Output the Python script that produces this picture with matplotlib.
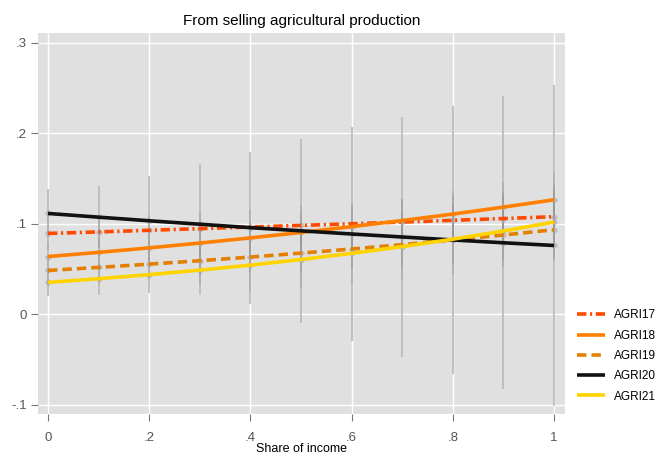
import numpy as np
import matplotlib
matplotlib.use("Agg")
import matplotlib.pyplot as plt

plt.rcParams['font.family'] = ['Liberation Sans', 'DejaVu Sans']

title = "From selling agricultural production"
xlabel = "Share of income"
x = [0.0, 0.1, 0.2, 0.3, 0.4, 0.5, 0.6, 0.7, 0.8, 0.9, 1.0]

agri17 = [0.0895, 0.0912, 0.0930, 0.0948, 0.0966, 0.0984, 0.1002, 0.1021, 0.1040, 0.1060, 0.1080]
agri18 = [0.0640, 0.0686, 0.0736, 0.0789, 0.0846, 0.0906, 0.0970, 0.1038, 0.1109, 0.1186, 0.1267]
agri19 = [0.0486, 0.0520, 0.0556, 0.0594, 0.0634, 0.0678, 0.0723, 0.0772, 0.0823, 0.0878, 0.0936]
agri20 = [0.1116, 0.1075, 0.1035, 0.0997, 0.0959, 0.0924, 0.0889, 0.0856, 0.0823, 0.0792, 0.0762]
agri21 = [0.0354, 0.0395, 0.0440, 0.0490, 0.0545, 0.0607, 0.0675, 0.0750, 0.0832, 0.0922, 0.1021]

# confidence-interval half widths
ci17 = [0.018, 0.017, 0.017, 0.018, 0.019, 0.021, 0.023, 0.025, 0.027, 0.029, 0.031]
ci18 = [0.016, 0.015, 0.015, 0.016, 0.018, 0.020, 0.022, 0.024, 0.026, 0.028, 0.030]
ci19 = [0.017, 0.016, 0.016, 0.017, 0.018, 0.020, 0.022, 0.024, 0.027, 0.029, 0.031]
ci20 = [0.027, 0.034, 0.050, 0.067, 0.084, 0.102, 0.118, 0.133, 0.148, 0.162, 0.177]
ci21 = [0.0154, 0.0175, 0.020, 0.027, 0.030, 0.032, 0.034, 0.036, 0.038, 0.040, 0.042]

labels = ["AGRI17", "AGRI18", "AGRI19", "AGRI20", "AGRI21"]
series = [agri17, agri18, agri19, agri20, agri21]
cis = [ci17, ci18, ci19, ci20, ci21]
colors = ["#FF4A00", "#FF8000", "#E38000", "#111111", "#FFD300"]
styles = [(0, (2.6, 1.0, 0.6, 1.0)), "-", (0, (2.6, 1.4)), "-", "-"]

xticks = [0, 0.2, 0.4, 0.6, 0.8, 1.0]
xticklabels = ["0", ".2", ".4", ".6", ".8", "1"]
yticks = [-0.1, 0, 0.1, 0.2, 0.3]
yticklabels = ["-.1", "0", ".1", ".2", ".3"]

fig = plt.figure(figsize=(6.58, 4.54), dpi=100)
ax = fig.add_axes([38/658, 1-414/454, (565-38)/658, (414-33)/454])
ax.set_facecolor("#E0E0E0")
for s in ax.spines.values():
    s.set_visible(False)

ax.set_xlim(-0.0198, 1.0217)
ax.set_ylim(-0.110, 0.311)
ax.set_xticks(xticks)
ax.set_xticklabels(xticklabels)
ax.set_yticks(yticks)
ax.set_yticklabels(yticklabels)
ax.grid(True, color="white", lw=1.0, zorder=0)
ax.set_axisbelow(True)
ax.tick_params(axis="both", colors="#777777", labelcolor="#555555", labelsize=9.5,
               length=5, width=0.8, direction="out")
ax.tick_params(axis="x", pad=8)
ax.tick_params(axis="y", pad=3)

xa = np.array(x)
arr_lo = np.array([np.array(s) - np.array(c) for s, c in zip(series, cis)])
arr_hi = np.array([np.array(s) + np.array(c) for s, c in zip(series, cis)])
# base spike (covers gridlines)
ax.vlines(xa, arr_lo.min(axis=0), arr_hi.max(axis=0), color="#D0D0D0", lw=1.3, zorder=1)
for lo, hi in zip(arr_lo, arr_hi):
    ax.vlines(xa, lo, hi, color="#7A7A7A", lw=1.3, alpha=0.22, zorder=2)
for s in series:
    ax.plot(xa, s, ls="none", marker="D", ms=3, color="#A8A8A8", alpha=0.5, zorder=2.5)

handles = []
for s, c, st, lab in zip(series, colors, styles, labels):
    h, = ax.plot(xa, s, color=c, ls=st, lw=2.6, label=lab, zorder=3,
                 solid_capstyle="butt", dash_capstyle="butt")
    handles.append(h)

ax.set_title(title, fontsize=11, pad=6)
ax.set_xlabel(xlabel, fontsize=9, labelpad=-1)

leg = fig.legend(handles=handles, labels=labels, loc="center left",
                 bbox_to_anchor=(577/658, 1-356/454), frameon=False,
                 fontsize=8.5, handlelength=2.4, handletextpad=0.7,
                 labelspacing=0.7, borderpad=0, borderaxespad=0)

fig.savefig("out.png", dpi=100)
